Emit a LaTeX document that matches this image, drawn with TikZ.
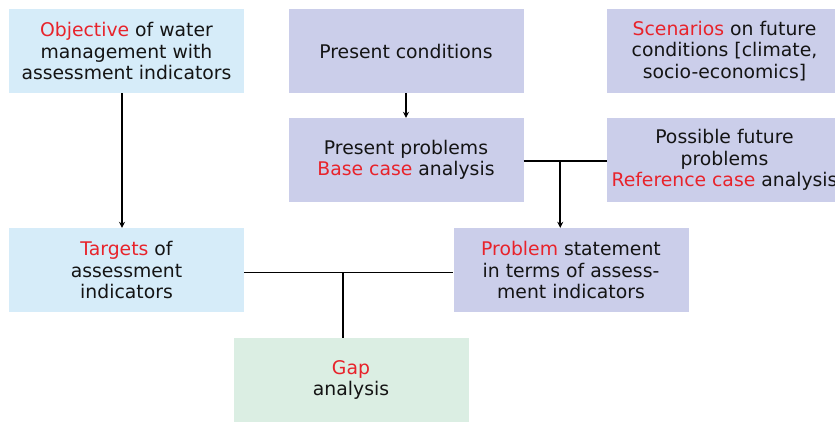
\documentclass[tikz,border=0pt]{standalone}
\usepackage{fontspec}
\setmainfont{DejaVu Sans}
\usetikzlibrary{arrows.meta,calc}
\definecolor{skyfill}{HTML}{D6ECF9}
\definecolor{lavfill}{HTML}{CBCEEA}
\definecolor{mintfill}{HTML}{DBEEE3}
\definecolor{keyred}{HTML}{E8232B}
\definecolor{inkdark}{HTML}{141414}
\newcommand{\kw}[1]{\textcolor{keyred}{#1}}
\begin{document}
\begin{tikzpicture}[x=1pt,y=-1pt,
  box/.style={minimum width=235pt, minimum height=84pt, inner sep=0pt,
    align=center, text=inkdark, font=\fontsize{18.8}{21.4}\selectfont},
  sky/.style={box, fill=skyfill},
  lav/.style={box, fill=lavfill},
  mint/.style={box, fill=mintfill},
  link/.style={draw=black, line width=1.8pt},
  arr/.style={link, -{Stealth[length=6pt,width=6pt]}}]
\useasboundingbox (0,0) rectangle (835,421);

% boxes
\node[sky]  (obj)  at (126.5,51)  {\kw{Objective} of water\\management with\\assessment indicators};
\node[lav]  (pc)   at (406,51)    {Present conditions};
\node[lav]  (scen) at (724.5,51)  {\kw{Scenarios} on future\\conditions [climate,\\socio-economics]};
\node[lav]  (pp)   at (406,160)   {Present problems\\\kw{Base case} analysis};
\node[lav]  (pfp)  at (724.5,160) {Possible future\\problems\\\kw{Reference case} analysis};
\node[sky]  (tgt)  at (126.5,270) {\kw{Targets} of\\assessment\\indicators};
\node[lav]  (ps)   at (571,270)   {\kw{Problem} statement\\in terms of assess-\\ment indicators};
\node[mint] (gap)  at (351,380)   {\kw{Gap}\\analysis};

% connectors
\draw[arr] ([xshift=-4.5pt]obj.south) -- ([xshift=-4.5pt]tgt.north);
\draw[arr] (pc.south) -- (pp.north);
\draw[link] ([yshift=-1pt]pp.east) -- ([yshift=-1pt]pfp.west);
\coordinate (j1) at ($([yshift=-1pt]pp.east)!0.44!([yshift=-1pt]pfp.west)$);
\draw[arr] (j1) -- (j1 |- ps.north);
\draw[link] ([yshift=-2.5pt]tgt.east) -- ([yshift=-2.5pt]ps.west);
\coordinate (j2) at ($([yshift=-2.5pt]tgt.east)!0.471!([yshift=-2.5pt]ps.west)$);
\draw[link] (j2) -- (j2 |- gap.north);
\end{tikzpicture}
\end{document}
